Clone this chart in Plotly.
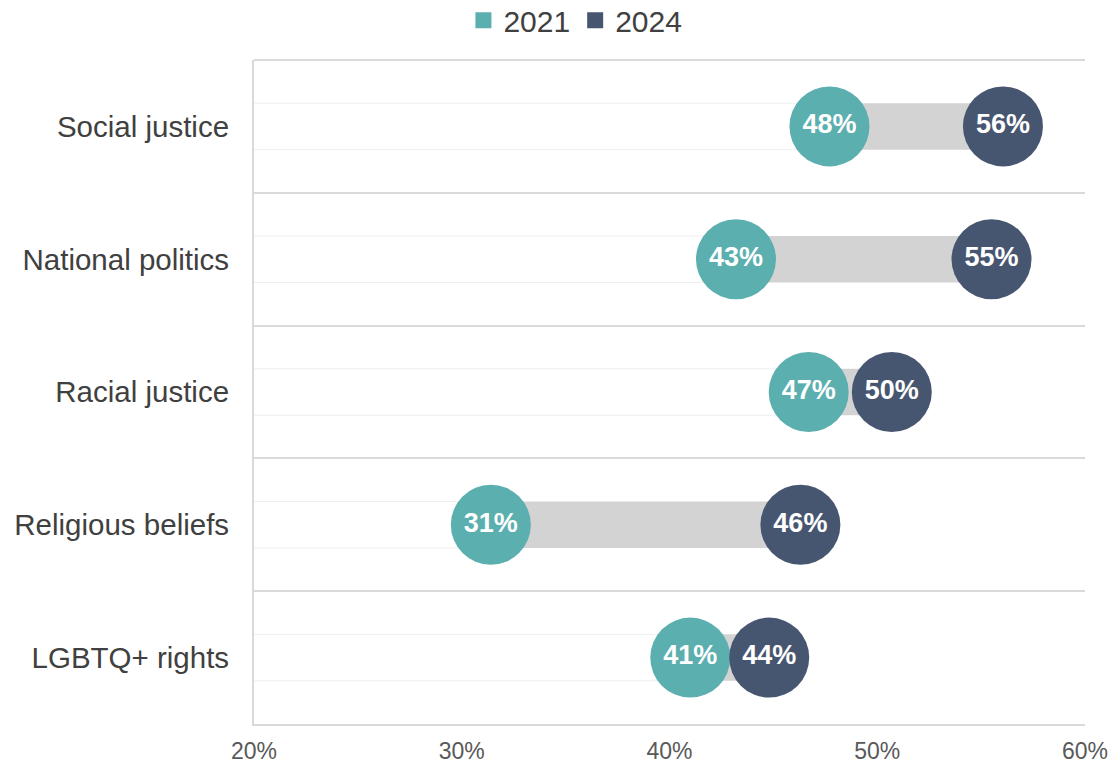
import plotly.graph_objects as go

categories = ["Social justice", "National politics", "Racial justice", "Religious beliefs", "LGBTQ+ rights"]
v2021 = [47.7, 43.2, 46.7, 31.4, 41.0]
v2024 = [56.05, 55.5, 50.7, 46.3, 44.8]
labels2021 = ["48%", "43%", "47%", "31%", "41%"]
labels2024 = ["56%", "55%", "50%", "46%", "44%"]
x_ticks = [20, 30, 40, 50, 60]

TEAL = "#5BAFAE"
NAVY = "#475670"
GRAY = "#D3D3D3"
FONT = "Liberation Sans, Arial, sans-serif"

fig = go.Figure()

# faint outline segment from axis to the 2021 value
fig.add_trace(go.Bar(
    y=categories, x=v2021, base=[0] * len(v2021), orientation="h",
    width=0.35, marker=dict(color="rgba(0,0,0,0)", line=dict(color="#EFEFEF", width=1)),
    showlegend=False, hoverinfo="skip"))

# gray gap bar
fig.add_trace(go.Bar(
    y=categories, x=[b - a for a, b in zip(v2021, v2024)], base=v2021, orientation="h",
    width=0.35, marker=dict(color=GRAY, line=dict(width=0)),
    showlegend=False, hoverinfo="skip"))

fig.add_trace(go.Scatter(
    y=categories, x=v2021, mode="markers+text", text=labels2021,
    textposition="middle center",
    textfont=dict(family=FONT, size=27, color="white", weight="bold"),
    marker=dict(size=80, color=TEAL, line=dict(width=0)),
    showlegend=False, cliponaxis=False))

fig.add_trace(go.Scatter(
    y=categories, x=v2024, mode="markers+text", text=labels2024,
    textposition="middle center",
    textfont=dict(family=FONT, size=27, color="white", weight="bold"),
    marker=dict(size=80, color=NAVY, line=dict(width=0)),
    showlegend=False, cliponaxis=False))

# legend entries
fig.add_trace(go.Scatter(x=[None], y=[None], mode="markers", name="2021",
                         marker=dict(symbol="square", size=16, color=TEAL)))
fig.add_trace(go.Scatter(x=[None], y=[None], mode="markers", name="2024",
                         marker=dict(symbol="square", size=16, color=NAVY)))

fig.update_layout(
    width=1109, height=764,
    margin=dict(l=254, r=24, t=60, b=40, autoexpand=False),
    plot_bgcolor="white", paper_bgcolor="white",
    barmode="overlay",
    font=dict(family=FONT, color="#404040"),
    legend=dict(orientation="h", x=0.252, xanchor="left", y=1.06, yanchor="middle",
                font=dict(size=30, color="#404040"), itemwidth=30, tracegroupgap=0,
                bgcolor="rgba(0,0,0,0)"),
    xaxis=dict(range=[20, 60], tickvals=x_ticks, ticktext=[f"{t}%" for t in x_ticks],
               showgrid=False, zeroline=False, showline=True, linecolor="#D9D9D9", linewidth=2,
               ticks="", ticklabelstandoff=5, tickfont=dict(size=23, color="#595959"),
               automargin=False),
    yaxis=dict(categoryorder="array", categoryarray=categories, range=[4.5, -0.5],
               tickson="boundaries", showgrid=True, gridcolor="#D9D9D9", gridwidth=2,
               showline=True, linecolor="#D9D9D9", linewidth=2, ticks="",
               ticklabelstandoff=17, zeroline=False, automargin=False,
               tickfont=dict(size=29.5, color="#404040")),
    shapes=[dict(type="line", xref="paper", yref="paper", x0=0, x1=1, y0=1, y1=1,
                 line=dict(color="#D9D9D9", width=2), layer="below")],
)

fig.write_html("out.html")
